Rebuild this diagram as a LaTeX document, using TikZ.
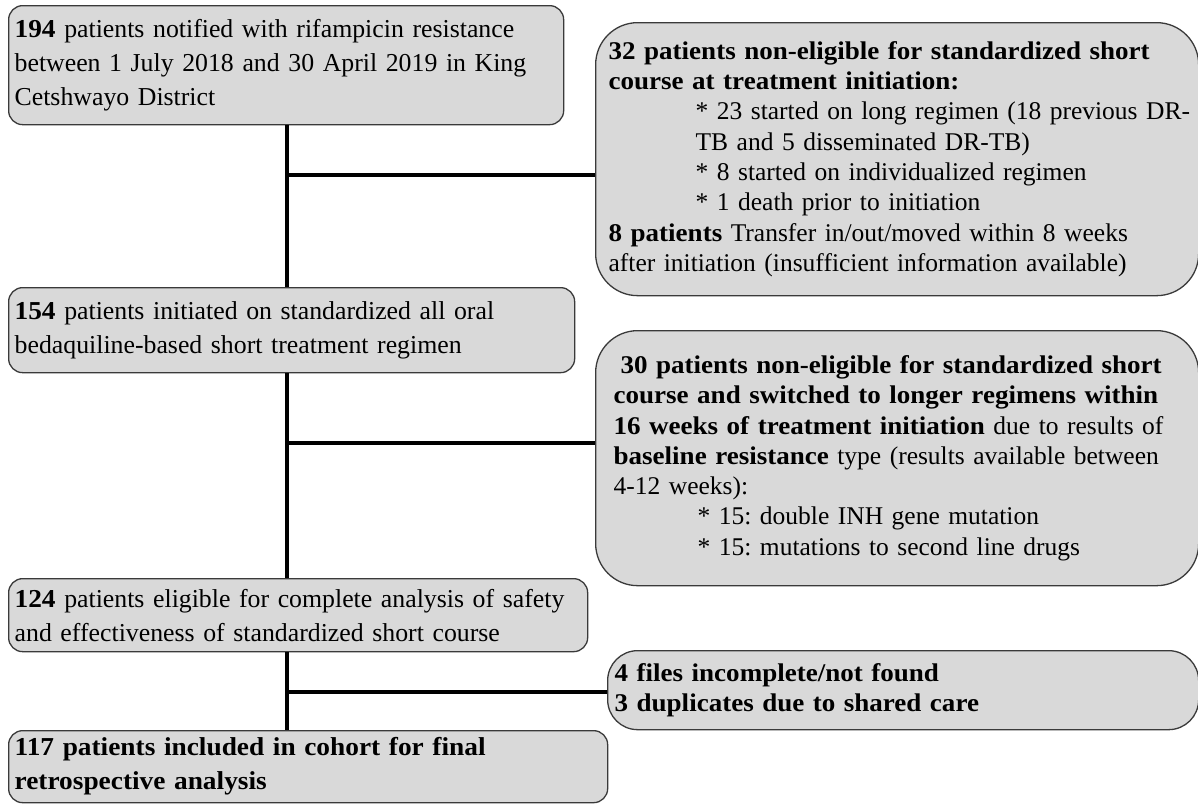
\documentclass[tikz,border=0pt]{standalone}
\usepackage{fontspec}
\setmainfont{Liberation Serif}[BoldFeatures={FakeStretch=1.06}]
\usetikzlibrary{positioning}
\definecolor{boxgray}{HTML}{D9D9D9}
\definecolor{boxedge}{HTML}{3A3A3A}
\frenchspacing

\begin{document}
\begin{tikzpicture}[x=1pt, y=-1pt,
    flowbox/.style={rectangle, rounded corners=14pt, draw=boxedge, fill=boxgray,
                    line width=1.3pt, anchor=north west, align=left,
                    inner xsep=6pt, inner ysep=0pt, font=\fontsize{25.8}{34}\selectfont},
    sidebox/.style={flowbox, rounded corners=42pt, font=\fontsize{25.5}{30.3}\selectfont},
    link/.style={line width=4pt, color=black}
]
    \useasboundingbox (0,0) rectangle (1198,803);

    % Main flow
    \node[flowbox, minimum width=555pt, minimum height=119pt, text width=543pt] (notified) at (8,5)
        {\textbf{194} patients notified with rifampicin resistance\\
         between 1 July 2018 and 30 April 2019 in King\\
         Cetshwayo District};
    \node[flowbox, minimum width=566pt, minimum height=85pt, text width=554pt] (initiated) at (8,287)
        {\textbf{154} patients initiated on standardized all oral\\
         bedaquiline-based short treatment regimen};
    \node[flowbox, minimum width=579pt, minimum height=73pt, text width=567pt] (eligible) at (8,578)
        {\textbf{124} patients eligible for complete analysis of safety\\
         and effectiveness of standardized short course};
    \node[flowbox, minimum width=599pt, minimum height=72pt, text width=587pt,
          font=\bfseries\fontsize{25.8}{34}\selectfont] (included) at (8,730)
        {117 patients included in cohort for final\\
         retrospective analysis};

    % Exclusions
    \node[sidebox, minimum width=603pt, minimum height=273pt, text width=577pt, inner xsep=13pt] (excl1) at (595,22)
        {\textbf{32 patients non-eligible for standardized short}\\
         \textbf{course at treatment initiation:}\\
         \hspace*{87pt}\mbox{* 23 started on long regimen (18 previous DR-}\\
         \hspace*{87pt}TB and 5 disseminated DR-TB)\\
         \hspace*{87pt}* 8 started on individualized regimen\\
         \hspace*{87pt}* 1 death prior to initiation\\
         \textbf{8 patients} Transfer in/out/moved within 8 weeks\\
         after initiation (insufficient information available)};
    \node[sidebox, minimum width=603pt, minimum height=255pt, text width=567pt, inner xsep=18pt] (excl2) at (595,330)
        {\hspace*{7pt}\textbf{30 patients non-eligible for standardized short}\\
         \textbf{course and switched to longer regimens within}\\
         \textbf{16 weeks of treatment initiation} due to results of\\
         \textbf{baseline resistance} type (results available between\\
         4-12 weeks):\\
         \hspace*{84pt}* 15: double INH gene mutation\\
         \hspace*{84pt}* 15: mutations to second line drugs};
    \node[sidebox, rounded corners=30pt, minimum width=591pt, minimum height=79pt, text width=577pt, inner xsep=7pt,
          font=\bfseries\fontsize{25.5}{30}\selectfont] (excl3) at (607,650)
        {4 files incomplete/not found\\
         3 duplicates due to shared care};

    % Junctions
    \coordinate (j1) at (287,175);
    \coordinate (j2) at (287,443);
    \coordinate (j3) at (287,692);

    % Connections
    \draw[link] (notified.south -| j1) -- (initiated.north -| j1);
    \draw[link] (initiated.south -| j2) -- (eligible.north -| j2);
    \draw[link] (eligible.south -| j3) -- (included.north -| j3);
    \draw[link] (j1) -- (excl1.west |- j1);
    \draw[link] (j2) -- (excl2.west |- j2);
    \draw[link] (j3) -- (excl3.west |- j3);
\end{tikzpicture}
\end{document}
